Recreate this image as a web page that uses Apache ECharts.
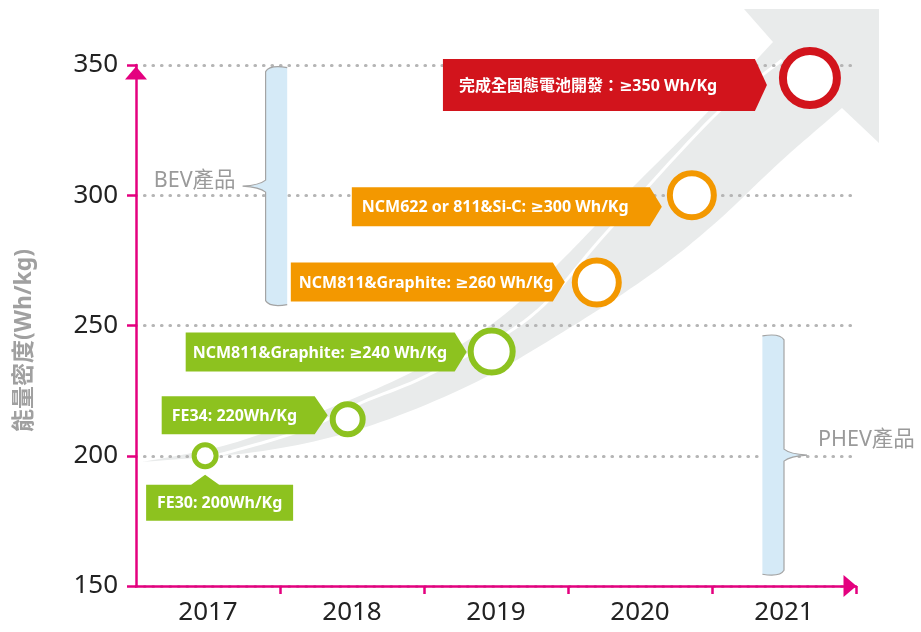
<!DOCTYPE html>
<html><head><meta charset="utf-8">
<script src="https://cdn.jsdelivr.net/npm/echarts@6/dist/echarts.min.js"></script>
<style>html,body{margin:0;padding:0;background:#fff}#c{width:921px;height:632px}</style>
</head><body><div id="c"></div>
<script>
// ---------- data ----------
const years = ['2017', '2018', '2019', '2020', '2021'];
const yMin = 150, yMax = 350, yStep = 50;
const pointX = [0.48, 1.47, 2.47, 3.20, 3.86, 4.68];      // position along the year axis (category units)
const pointY = [200, 214, 240, 266.5, 300, 345];           // energy density, Wh/kg
const pointLabels = [
  'FE30: 200Wh/Kg',
  'FE34: 220Wh/Kg',
  'NCM811&Graphite: ≥240 Wh/Kg',
  'NCM811&Graphite: ≥260 Wh/Kg',
  'NCM622 or 811&Si-C: ≥300 Wh/Kg',
  '完成全固態電池開發：≥350 Wh/Kg'
];
const bracketNames = ['BEV產品', 'PHEV產品'];
const bracketX = [[0.90, 1.05], [4.35, 4.50]];
const bracketY = [[258, 349], [154.5, 246]];
const yAxisName = '能量密度(Wh/kg)';

// ---------- styles ----------
const F = "'Noto Sans','DejaVu Sans','Noto Sans CJK TC',sans-serif";
const MAG = '#e4007f', GREEN = '#8dc21f', ORANGE = '#f39800', RED = '#d2141c';
const pointStyle = [
  {color: GREEN, size: 22, border: 5},
  {color: GREEN, size: 30, border: 6},
  {color: GREEN, size: 42, border: 6},
  {color: ORANGE, size: 44, border: 6},
  {color: ORANGE, size: 44, border: 6},
  {color: RED, size: 54, border: 8}
];
// label box layout, px relative to circle centre
const labelLayout = [
  {below: true, left: -59, right: 88, top: 29, bottom: 65, apex: 19, half: 14},
  {left: -186, tip: -20, arrow: 13, top: -23, bottom: 15, pad: 10},
  {left: -306, tip: -25, arrow: 12, top: -19, bottom: 20, pad: 7},
  {left: -306, tip: -32, arrow: 12, top: -20, bottom: 19, pad: 8},
  {left: -340, tip: -30, arrow: 12, top: -8, bottom: 31, pad: 10},
  {left: -367, tip: -43, arrow: 12, top: -19, bottom: 33, pad: 16}
];

// decorative swoosh arrow (background art, px)
const swUpper = [[142,462],[230,444],[330,408],[420,368],[500,318],[560,262],[620,200],[700,120],[773,42]];
const swHead = [[744,9],[879,9],[879,143]];
const swLower = [[842,108],[780,162],[713,225],[650,275],[563,332],[470,385],[363,428],[263,451],[142,462]];
const swWhite = [[215,456],[300,431],[363,402],[430,374],[530,317],[607,232],[713,117],[782,60]];

function sampleSpline(pts) {
  const out = [pts[0]];
  for (let i = 0; i < pts.length - 1; i++) {
    const p0 = pts[i - 1] || pts[i], p1 = pts[i], p2 = pts[i + 1], p3 = pts[i + 2] || p2;
    const c1 = [p1[0] + (p2[0] - p0[0]) / 6, p1[1] + (p2[1] - p0[1]) / 6];
    const c2 = [p2[0] - (p3[0] - p1[0]) / 6, p2[1] - (p3[1] - p1[1]) / 6];
    for (let k = 1; k <= 12; k++) {
      const t = k / 12, u = 1 - t;
      out.push([
        u*u*u*p1[0] + 3*u*u*t*c1[0] + 3*u*t*t*c2[0] + t*t*t*p2[0],
        u*u*u*p1[1] + 3*u*u*t*c1[1] + 3*u*t*t*c2[1] + t*t*t*p2[1]
      ]);
    }
  }
  return out;
}
const swooshPts = sampleSpline(swUpper).concat(swHead, sampleSpline(swLower));
const whitePts = sampleSpline(swWhite);

function renderLabel(params, api) {
  const i = api.value(2);
  const p = api.coord([api.value(0), api.value(1)]);
  const L = labelLayout[i], st = pointStyle[i];
  const cx = p[0], cy = p[1];
  let pts, tx, ty, align;
  if (L.below) {
    const l = cx + L.left, r = cx + L.right, t = cy + L.top, b = cy + L.bottom;
    pts = [[l, t], [cx - L.half, t], [cx, cy + L.apex], [cx + L.half, t], [r, t], [r, b], [l, b]];
    tx = (l + r) / 2; ty = (t + b) / 2; align = 'center';
  } else {
    const l = cx + L.left, tip = cx + L.tip, a = tip - L.arrow, t = cy + L.top, b = cy + L.bottom;
    pts = [[l, t], [a, t], [tip, (t + b) / 2], [a, b], [l, b]];
    tx = l + L.pad; ty = (t + b) / 2; align = 'left';
  }
  return {
    type: 'group',
    children: [
      {type: 'polygon', shape: {points: pts}, style: {fill: st.color}},
      {type: 'text', x: tx, y: ty + 1,
        style: {text: pointLabels[i], fill: '#fff', font: 'bold 16px ' + F, align: align, verticalAlign: 'middle'}}
    ]
  };
}

function renderBracket(params, api) {
  const i = api.value(4);
  const tl = api.coord([api.value(0), api.value(3)]);
  const br = api.coord([api.value(1), api.value(2)]);
  const L = tl[0], R = br[0], T = tl[1], B = br[1], M = (T + B) / 2;
  let d, tx, ty, align;
  if (i === 0) {
    const tip = L - 23;
    d = `M${R},${T} Q${L + 4},${T - 3} ${L},${T + 4} L${L},${M - 6} Q${L - 6},${M - 1} ${tip},${M} Q${L - 6},${M + 1} ${L},${M + 6} L${L},${B - 4} Q${L + 4},${B + 3} ${R},${B}`;
    tx = tip - 7; ty = M - 5; align = 'right';
  } else {
    const tip = R + 23;
    d = `M${L},${T} Q${R - 4},${T - 3} ${R},${T + 4} L${R},${M - 6} Q${R + 6},${M - 1} ${tip},${M} Q${R + 6},${M + 1} ${R},${M + 6} L${R},${B - 4} Q${R - 4},${B + 3} ${L},${B}`;
    tx = tip + 11; ty = M - 15; align = 'left';
  }
  return {
    type: 'group',
    children: [
      {type: 'path', shape: {pathData: d + ' Z'}, style: {fill: '#d5eaf7', stroke: null}},
      {type: 'path', shape: {pathData: d}, style: {fill: null, stroke: '#a4a4a4', lineWidth: 1.2}},
      {type: 'text', x: tx, y: ty,
        style: {text: bracketNames[i], fill: '#9a9a9a', font: '21.5px ' + F, align: align, verticalAlign: 'middle'}}
    ]
  };
}

const chart = echarts.init(document.getElementById('c'), null, {renderer: 'canvas'});
chart.setOption({
  animation: false,
  backgroundColor: '#fff',
  grid: {left: 136, right: 65, top: 65, bottom: 46, containLabel: false, outerBoundsMode: 'none'},
  graphic: {
    elements: [
      {type: 'polygon', z: -10, silent: true, shape: {points: swooshPts}, style: {fill: '#e9ebeb'}},
      {type: 'polyline', z: -9, silent: true, shape: {points: whitePts}, style: {fill: null, stroke: '#fff', lineWidth: 3}}
    ]
  },
  xAxis: [
    {
      type: 'category', data: years, boundaryGap: true,
      axisLine: {show: true, lineStyle: {color: MAG, width: 2.5}, symbol: ['none', 'triangle'], symbolSize: [22, 13], symbolOffset: [0, -6]},
      axisTick: {show: true, length: 8, lineStyle: {color: MAG, width: 2.5}, interval: function (idx) { return idx > 0; }},
      axisLabel: {color: '#222', fontSize: 26, fontFamily: F, margin: 14},
      splitLine: {show: false}
    },
    {type: 'value', min: 0, max: 5, show: false, splitLine: {show: false}}
  ],
  yAxis: {
    type: 'value', min: yMin, max: yMax, interval: yStep,
    name: yAxisName, nameLocation: 'middle', nameRotate: 90, nameGap: 100,
    nameTextStyle: {color: '#a0a0a0', fontSize: 23, fontWeight: 'bold', fontFamily: F, padding: [0, 30, 0, 0]},
    axisLine: {show: true, lineStyle: {color: MAG, width: 2.5}, symbol: ['none', 'triangle'], symbolSize: [22, 13], symbolOffset: [0, -8]},
    axisTick: {show: true, length: 9, lineStyle: {color: MAG, width: 2.5}},
    axisLabel: {color: '#222', fontSize: 26, fontFamily: F, margin: 18},
    splitLine: {show: true, lineStyle: {color: '#b5b5b5', width: 3.2, type: [0.5, 8], cap: 'round'}}
  },
  series: [
    {
      type: 'custom', xAxisIndex: 1, yAxisIndex: 0, z: 3, silent: true, clip: false,
      renderItem: renderBracket,
      data: bracketX.map((bx, i) => [bx[0], bx[1], bracketY[i][0], bracketY[i][1], i])
    },
    {
      type: 'custom', xAxisIndex: 1, yAxisIndex: 0, z: 4, silent: true, clip: false,
      renderItem: renderLabel,
      data: pointX.map((x, i) => [x, pointY[i], i])
    },
    {
      type: 'scatter', xAxisIndex: 1, yAxisIndex: 0, z: 5, silent: true,
      data: pointX.map((x, i) => ({
        value: [x, pointY[i]],
        symbolSize: pointStyle[i].size,
        itemStyle: {color: '#fff', opacity: 1, borderColor: pointStyle[i].color, borderWidth: pointStyle[i].border}
      }))
    }
  ]
});
</script>
</body></html>
